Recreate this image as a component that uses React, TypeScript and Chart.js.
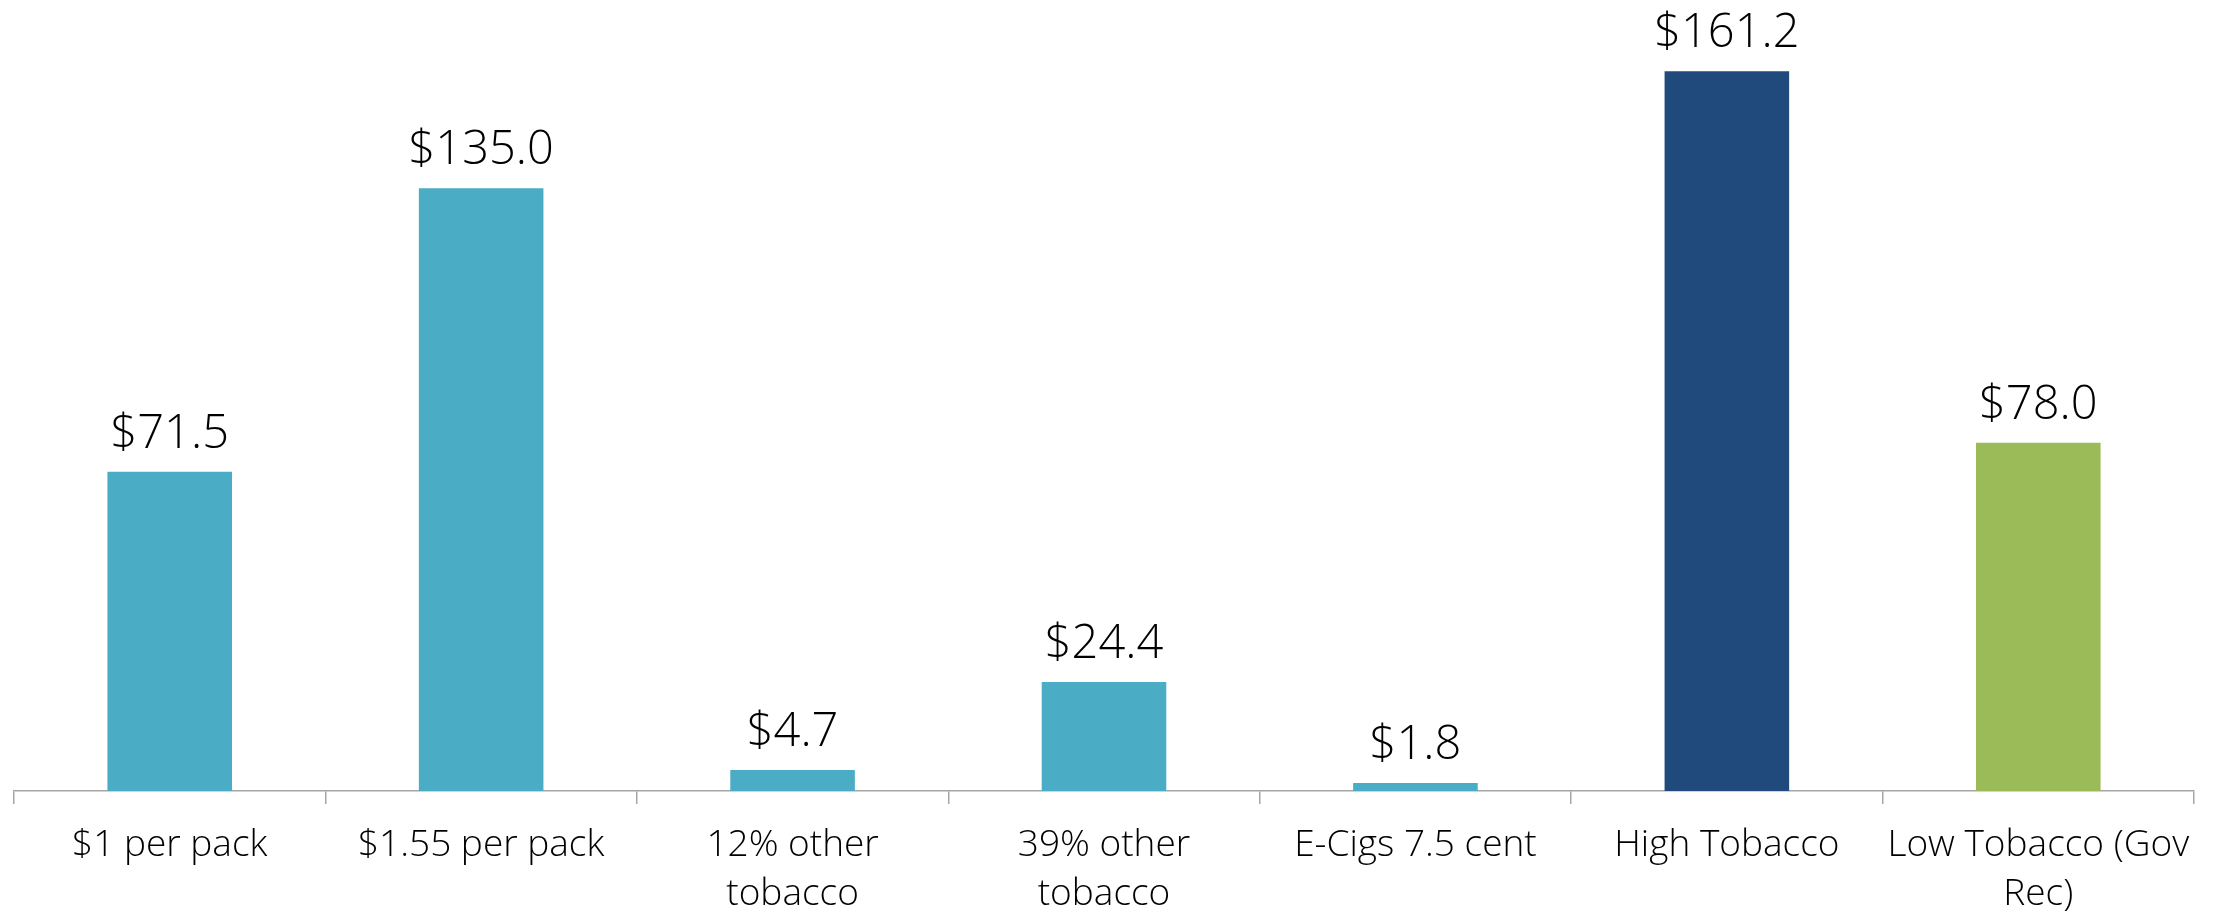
import React, { useEffect, useRef } from "react";
import { Chart, registerables } from "chart.js";

Chart.register(...registerables);

const categories: (string | string[])[] = [
  "$1 per pack",
  "$1.55 per pack",
  ["12% other", "tobacco"],
  ["39% other", "tobacco"],
  "E-Cigs 7.5 cent",
  "High Tobacco",
  ["Low Tobacco (Gov", "Rec)"],
];
const values = [71.5, 135.0, 4.7, 24.4, 1.8, 161.2, 78.0];
const barColors = ["#4BACC6", "#4BACC6", "#4BACC6", "#4BACC6", "#4BACC6", "#1F4A7B", "#9BBB59"];

const FONT = "'Open Sans', 'Noto Sans', sans-serif";

const valueLabels = {
  id: "valueLabels",
  afterDatasetsDraw(chart: any) {
    const ctx = chart.ctx;
    const meta = chart.getDatasetMeta(0);
    ctx.save();
    ctx.font = `300 47px ${FONT}`;
    ctx.fillStyle = "#000000";
    ctx.textAlign = "center";
    ctx.textBaseline = "alphabetic";
    meta.data.forEach((bar: any, i: number) => {
      ctx.fillText("$" + values[i].toFixed(1), bar.x, bar.y - 24);
    });
    ctx.restore();
  },
};

export default function App() {
  const ref = useRef<HTMLCanvasElement | null>(null);
  useEffect(() => {
    if (!ref.current) return;
    const chart = new Chart(ref.current, {
      type: "bar",
      data: {
        labels: categories,
        datasets: [
          {
            data: values,
            backgroundColor: barColors,
            barPercentage: 0.4,
            categoryPercentage: 1,
          },
        ],
      },
      options: {
        responsive: false,
        animation: false,
        maintainAspectRatio: false,
        layout: { padding: { top: 32, left: 14, right: 22, bottom: 0 } },
        plugins: { legend: { display: false }, tooltip: { enabled: false } },
        scales: {
          x: {
            grid: {
              offset: true,
              drawOnChartArea: false,
              drawTicks: true,
              tickLength: 13,
              color: "#A6A6A6",
              lineWidth: 1.5,
            },
            border: { display: true, color: "#A6A6A6", width: 1.5 },
            ticks: {
              color: "#000000",
              font: { family: FONT, size: 37, weight: "300", lineHeight: 1.33 },
              padding: 17,
              maxRotation: 0,
              autoSkip: false,
            },
            afterFit: (scale: any) => {
              scale.height = 127;
            },
          },
          y: {
            display: false,
            min: 0,
            max: 170,
          },
        },
      },
      plugins: [valueLabels],
    });
    return () => chart.destroy();
  }, []);
  return (
    <canvas
      ref={ref}
      width={2216}
      height={918}
      style={{ position: "fixed", left: 0, top: 0, width: 2216, height: 918, display: "block", background: "#ffffff" }}
    />
  );
}
